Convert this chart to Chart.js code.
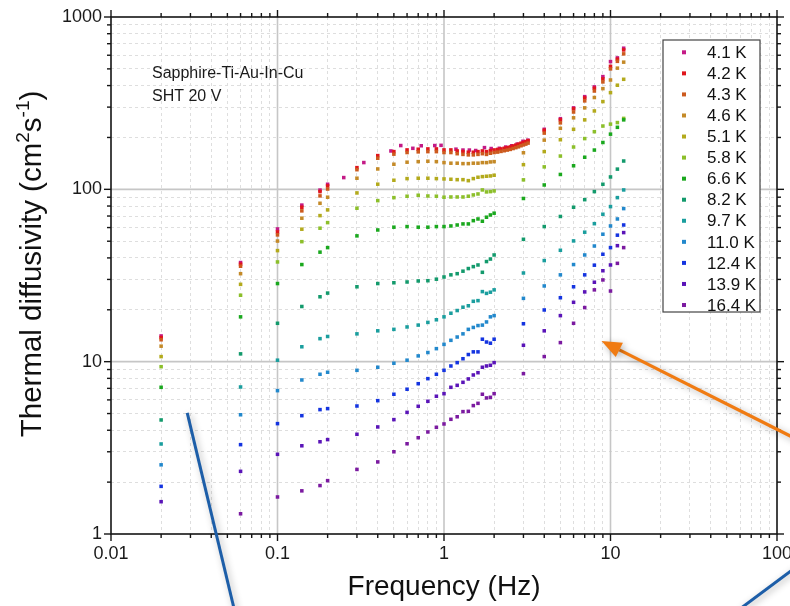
<!DOCTYPE html>
<html>
<head>
<meta charset="utf-8">
<title>Thermal diffusivity vs frequency</title>
<script src="https://cdn.jsdelivr.net/npm/chart.js@4.4.0/dist/chart.umd.min.js"></script>
<style>
  html, body { margin: 0; padding: 0; background: #fff; }
  canvas { display: block; }
</style>
</head>
<body>
<canvas id="chart" width="790" height="606"></canvas>
<script>
// ---- data ----
// common frequency grid (Hz)
const freq = [0.02, 0.06, 0.1, 0.14, 0.18, 0.2, 0.3, 0.4, 0.5, 0.6, 0.7, 0.8, 0.9, 1.0,
  1.1, 1.2, 1.3, 1.4, 1.5, 1.6, 1.7, 1.8, 1.9, 2.0, 3, 4, 5, 6, 7, 8, 9, 10, 11, 12];
// dense sweep between 2 and 3.2 Hz, only for 4.2 K and 4.3 K
const freqDense = [2.1, 2.2, 2.3, 2.4, 2.5, 2.6, 2.7, 2.8, 2.9, 3.1, 3.2];
// 4.1 K was measured on its own frequency set
const freq41 = [0.02, 0.06, 0.1, 0.14, 0.18, 0.2, 0.25, 0.33, 0.48, 0.55, 0.65, 0.73, 0.88, 0.96,
  1.18, 1.3, 1.42, 1.55, 1.75, 1.92, 2.15, 2.35, 2.55, 2.75, 2.98, 3.19, 4, 5, 6, 7, 8, 9, 10, 11, 12];

// thermal diffusivity (cm^2 s^-1)
const k41 = [14.1, 37.6, 58.9, 81, 99, 107, 117, 143, 167, 179.5, 173, 179, 179.5, 180,
  171, 169, 169, 168, 174.6, 172.5, 173, 176, 179, 183, 190, 193, 223, 257, 297, 345, 393, 451, 551, 579, 659];
const k42 = [13.8, 36.8, 56.6, 78.7, 97, 104.7, 133.6, 156.9, 165.5, 169.3, 170.9, 171.6, 171.6, 169.3,
  169.3, 167, 165.5, 164.2, 164.2, 165.5, 167, 165.5, 167.7, 169.3, 187, 220, 253, 293, 339, 386, 437, 517, 569, 644];
const k42Dense = [170.4, 171.6, 173, 174.4, 176.2, 178.4, 180.5, 182.7, 185.2, 189.2, 191.5];
const k43 = [13.4, 35.8, 54.4, 75, 91.6, 100.4, 130, 151.5, 160, 163.5, 165, 165.5, 165.5, 163.5,
  163.5, 161, 159.5, 158.5, 158.5, 159.5, 161, 159.5, 162, 163.5, 181, 212, 243, 281, 326, 372, 420, 500, 553, 611];
const k43Dense = [164.5, 166, 167.5, 169, 170.5, 172.5, 174.5, 176.5, 179, 183, 185.5];
const k46 = [12.3, 32.4, 50.1, 68, 83, 90, 116, 131.3, 139.8, 143.7, 144.8, 145.6, 144.8, 142.9,
  141.8, 141.8, 141, 141, 141.8, 141.8, 142.9, 142.9, 144.2, 144.8, 163, 193, 226, 260, 297, 341, 384, 431, 505, 547];
const k51 = [10.7, 28.1, 44.1, 58.7, 70.4, 76, 95.3, 107.1, 112.9, 115.4, 116, 116, 115.4, 114.9,
  114.4, 113.8, 113.8, 112.3, 115.4, 117.5, 118.5, 119.1, 119.6, 120.7, 139, 165.5, 194, 223, 253, 285, 323, 364, 402, 435];
const k58 = [9.35, 24.3, 37.9, 49.7, 59.5, 64.1, 77.7, 86, 89.5, 91.2, 92.4, 91.5, 91.2, 90,
  90.3, 90.3, 90.3, 91.2, 92.8, 94, 99.2, 96.6, 97, 97.9, 113.5, 135, 156, 176, 197, 216, 233, 239, 244, 258];
const k66 = [7.1, 18.2, 28.4, 36.6, 43.2, 45.9, 53.7, 58.1, 60.3, 60.8, 60.3, 60.3, 60.8, 60.8,
  61.3, 62.1, 63, 63, 65.8, 67.3, 65.3, 68.9, 71, 72.7, 88.5, 106, 122, 137, 153.5, 169, 187, 209, 229, 253];
const k82 = [4.59, 11.1, 16.7, 20.9, 23.8, 25, 27.2, 28.4, 28.7, 29, 29.4, 29.5, 30.1, 31,
  31.9, 32.4, 33.5, 34.7, 35.6, 36.4, 33, 38.1, 39.4, 41.6, 51.3, 60.8, 69.6, 78.7, 87.1, 97, 107, 118, 131, 146];
const k97 = [3.33, 7.13, 10.2, 12.2, 13.6, 14, 14.5, 15.1, 15.4, 15.9, 16.3, 16.9, 17.5, 18.2,
  19.1, 19.8, 20.7, 21.1, 22.4, 22.6, 25.5, 24.9, 25.3, 26.1, 32.7, 38.6, 44.3, 50.2, 56.4, 63.2, 71.7, 79.4, 89.5, 99.2];
const k110 = [2.52, 4.92, 6.79, 7.83, 8.45, 8.68, 8.91, 9.28, 9.79, 10.2, 10.8, 11.3, 11.9, 12.6,
  13.3, 13.9, 14.5, 15.4, 15.8, 16.2, 16.3, 17, 18.2, 18.5, 23.3, 27.5, 31.9, 36.6, 41.6, 46.9, 54.9, 61.3, 67.3, 77.3];
const k124 = [1.89, 3.3, 4.37, 4.86, 5.27, 5.34, 5.53, 5.94, 6.47, 6.92, 7.45, 7.97, 8.45, 8.91,
  9.44, 9.87, 10.4, 11, 11.4, 11.4, 13.5, 13, 12.8, 13.5, 16.6, 19.95, 23.5, 27.2, 31.9, 36.3, 42, 45.9, 54.2, 62.1];
const k139 = [1.54, 2.31, 2.9, 3.25, 3.43, 3.53, 3.79, 4.18, 4.61, 5.08, 5.51, 5.89, 6.3, 6.52,
  7.1, 7.29, 7.59, 7.94, 8.37, 8.63, 9.28, 9.44, 9.53, 9.87, 12.45, 15.1, 18.5, 22.1, 25.4, 28.9, 33.7, 36.4, 47.1, 56.1];
const k164 = [null, 1.31, 1.64, 1.78, 1.91, 2.04, 2.37, 2.62, 3, 3.34, 3.62, 3.91, 4.16, 4.35,
  4.63, 4.79, 5.13, 5.15, 5.56, 5.73, 6.47, 6.16, 6.21, 6.52, 8.52, 10.7, 12.9, 16.7, 20.6, 26.1, 29.8, 25.7, 37.2, 45.9];

const temps = ['4.1 K', '4.2 K', '4.3 K', '4.6 K', '5.1 K', '5.8 K', '6.6 K',
  '8.2 K', '9.7 K', '11.0 K', '12.4 K', '13.9 K', '16.4 K'];
const colors = ['#c41a86', '#e0161c', '#cc5a1e', '#c48a28', '#b3aa1c', '#8cbf2a', '#1aa81e',
  '#139a6c', '#1a9e9e', '#2288cc', '#1434e0', '#5a14b8', '#7b1aa0'];

// axis ticks
const xMajor = [0.01, 0.1, 1, 10, 100];
const xLabels = ['0.01', '0.1', '1', '10', '100'];
const yMajor = [1, 10, 100, 1000];
const yLabels = ['1', '10', '100', '1000'];

// callout lines from the slide, in data coordinates [freq, value]
const orangeArrow = [[141.5, 3.42], [8.83, 13.19]];
const blueLines = [
  [[0.0287, 5.04], [0.0551, 0.362]],
  [[59.8, 0.367], [141.5, 0.683]]
];

const FAM = "'Liberation Sans', Arial, sans-serif";

// ---- helpers ----
function pts(xs, ys) {
  const out = [];
  xs.forEach((x, i) => { if (ys[i] != null) out.push({ x: x, y: ys[i] }); });
  return out;
}
function withMinors(majors) {
  const out = [];
  majors.forEach((d, i) => {
    out.push(d);
    if (i < majors.length - 1) for (let m = 2; m <= 9; m++) out.push(d * m);
  });
  return out;
}
function isMajor(v, majors) {
  return majors.some(d => Math.abs(v / d - 1) < 1e-6);
}
function labelFor(v, majors, labels) {
  const i = majors.findIndex(d => Math.abs(v / d - 1) < 1e-6);
  return i >= 0 ? labels[i] : '';
}
const xTickVals = withMinors(xMajor);
const yTickVals = withMinors(yMajor);

const series = [
  pts(freq41, k41),
  pts(freq, k42).concat(pts(freqDense, k42Dense)),
  pts(freq, k43).concat(pts(freqDense, k43Dense)),
  pts(freq, k46), pts(freq, k51), pts(freq, k58), pts(freq, k66),
  pts(freq, k82), pts(freq, k97), pts(freq, k110), pts(freq, k124),
  pts(freq, k139), pts(freq, k164)
];

const datasets = series.map((d, i) => ({
  label: temps[i],
  data: d,
  order: temps.length - i,
  pointStyle: 'rect',
  pointRadius: 2.5,
  pointBorderWidth: 0,
  backgroundColor: colors[i],
  borderColor: colors[i],
  showLine: false
}));

function line(ctx, x1, y1, x2, y2) {
  ctx.beginPath(); ctx.moveTo(x1, y1); ctx.lineTo(x2, y2); ctx.stroke();
}

const decor = {
  id: 'decor',
  beforeDatasetsDraw(chart) {
    const { ctx, chartArea: a, scales: { x, y } } = chart;
    ctx.save();
    ctx.strokeStyle = '#c6c6c6';
    ctx.lineWidth = 1.6;
    xMajor.forEach(v => {
      const px = x.getPixelForValue(v);
      if (px > a.left + 2 && px < a.right - 2) line(ctx, px, a.top, px, a.bottom);
    });
    yMajor.forEach(v => {
      const py = y.getPixelForValue(v);
      if (py > a.top + 2 && py < a.bottom - 2) line(ctx, a.left, py, a.right, py);
    });
    ctx.restore();
  },
  afterDraw(chart) {
    const { ctx, chartArea: a, scales: { x, y } } = chart;
    ctx.save();

    // frame and tick marks
    ctx.strokeStyle = '#151515';
    ctx.lineWidth = 1.6;
    ctx.strokeRect(a.left, a.top, a.right - a.left, a.bottom - a.top);
    ctx.lineWidth = 1.4;
    xTickVals.forEach(v => {
      const px = x.getPixelForValue(v);
      const len = isMajor(v, xMajor) ? 7 : 4;
      line(ctx, px, a.bottom, px, a.bottom + len);
      line(ctx, px, a.top, px, a.top - len);
    });
    yTickVals.forEach(v => {
      const py = y.getPixelForValue(v);
      const len = isMajor(v, yMajor) ? 7 : 4;
      line(ctx, a.left - len, py, a.left, py);
      line(ctx, a.right, py, a.right + len, py);
    });

    // y axis title with superscripts
    const big = '29.5px ' + FAM, small = '19px ' + FAM;
    const parts = [['Thermal diffusivity (cm', big, 0], ['2', small, -12], ['s', big, 0], ['-1', small, -12], [')', big, 0]];
    let total = 0;
    parts.forEach(p => { ctx.font = p[1]; total += ctx.measureText(p[0]).width; });
    ctx.save();
    ctx.translate(41, 264);
    ctx.rotate(-Math.PI / 2);
    ctx.fillStyle = '#111';
    ctx.textBaseline = 'alphabetic';
    ctx.textAlign = 'left';
    let cx = -total / 2;
    parts.forEach(p => {
      ctx.font = p[1];
      ctx.fillText(p[0], cx, p[2]);
      cx += ctx.measureText(p[0]).width;
    });
    ctx.restore();

    // sample note
    ctx.fillStyle = '#1a1a1a';
    ctx.font = '16px ' + FAM;
    ctx.textAlign = 'left';
    ctx.textBaseline = 'alphabetic';
    ctx.fillText('Sapphire-Ti-Au-In-Cu', 152, 78);
    ctx.fillText('SHT 20 V', 152, 101);

    // legend
    const lx = 663, ly = 40, lw = 97, lh = 272;
    ctx.fillStyle = '#fff';
    ctx.fillRect(lx, ly, lw, lh);
    ctx.strokeStyle = '#444';
    ctx.lineWidth = 1.2;
    ctx.strokeRect(lx, ly, lw, lh);
    ctx.font = '17px ' + FAM;
    ctx.textBaseline = 'middle';
    temps.forEach((t, i) => {
      const ry = 52.3 + i * 21.06;
      ctx.fillStyle = colors[i];
      ctx.fillRect(682, ry - 2, 4, 4);
      ctx.fillStyle = '#111';
      ctx.fillText(t, 707, ry + 1);
    });

    // callout lines
    const P = p => [x.getPixelForValue(p[0]), y.getPixelForValue(p[1])];
    ctx.shadowColor = 'rgba(0,0,0,0.3)';
    ctx.shadowBlur = 7;
    ctx.shadowOffsetX = 2;
    ctx.shadowOffsetY = 2;
    ctx.lineCap = 'butt';
    ctx.strokeStyle = '#1d5ea8';
    ctx.lineWidth = 3;
    blueLines.forEach(b => {
      const p1 = P(b[0]), p2 = P(b[1]);
      line(ctx, p1[0], p1[1], p2[0], p2[1]);
    });
    const t = P(orangeArrow[0]), h = P(orangeArrow[1]);
    const ang = Math.atan2(h[1] - t[1], h[0] - t[0]);
    const hl = 20, hw = 8;
    const bx = h[0] - hl * Math.cos(ang), by = h[1] - hl * Math.sin(ang);
    ctx.strokeStyle = '#f07b12';
    ctx.fillStyle = '#f07b12';
    ctx.lineWidth = 3.2;
    line(ctx, t[0], t[1], bx, by);
    ctx.beginPath();
    ctx.moveTo(h[0], h[1]);
    ctx.lineTo(bx + hw * Math.sin(ang), by - hw * Math.cos(ang));
    ctx.lineTo(bx - hw * Math.sin(ang), by + hw * Math.cos(ang));
    ctx.closePath();
    ctx.fill();

    ctx.restore();
  }
};

Chart.defaults.font.family = FAM;

new Chart(document.getElementById('chart'), {
  type: 'scatter',
  data: { datasets: datasets },
  options: {
    responsive: false,
    animation: false,
    devicePixelRatio: 1,
    layout: { padding: { top: 17, right: 13, left: 0, bottom: 0 } },
    plugins: { legend: { display: false }, tooltip: { enabled: false } },
    scales: {
      x: {
        type: 'logarithmic',
        position: 'bottom',
        min: 0.01,
        max: 100,
        afterBuildTicks: s => { s.ticks = xTickVals.map(v => ({ value: v })); },
        afterFit: s => { s.height = 72; s.paddingLeft = 0; s.paddingRight = 0; },
        grid: {
          color: c => (c.tick && isMajor(c.tick.value, xMajor)) ? 'rgba(0,0,0,0)' : '#dedede',
          lineWidth: 1,
          drawTicks: false
        },
        border: { display: false, dash: [3, 3] },
        ticks: {
          autoSkip: false,
          maxRotation: 0,
          padding: 9,
          color: '#1a1a1a',
          font: { size: 18 },
          callback: v => labelFor(v, xMajor, xLabels)
        },
        title: {
          display: true,
          text: 'Frequency (Hz)',
          color: '#111',
          font: { size: 28 },
          padding: { top: 0, bottom: 2 }
        }
      },
      y: {
        type: 'logarithmic',
        min: 1,
        max: 1000,
        afterBuildTicks: s => { s.ticks = yTickVals.map(v => ({ value: v })); },
        afterFit: s => { s.width = 111; s.paddingTop = 0; s.paddingBottom = 0; },
        grid: {
          color: c => (c.tick && isMajor(c.tick.value, yMajor)) ? 'rgba(0,0,0,0)' : '#dedede',
          lineWidth: 1,
          drawTicks: false
        },
        border: { display: false, dash: [3, 3] },
        ticks: {
          autoSkip: false,
          padding: 9,
          color: '#1a1a1a',
          font: { size: 18 },
          callback: v => labelFor(v, yMajor, yLabels)
        }
      }
    }
  },
  plugins: [decor]
});
</script>
</body>
</html>
